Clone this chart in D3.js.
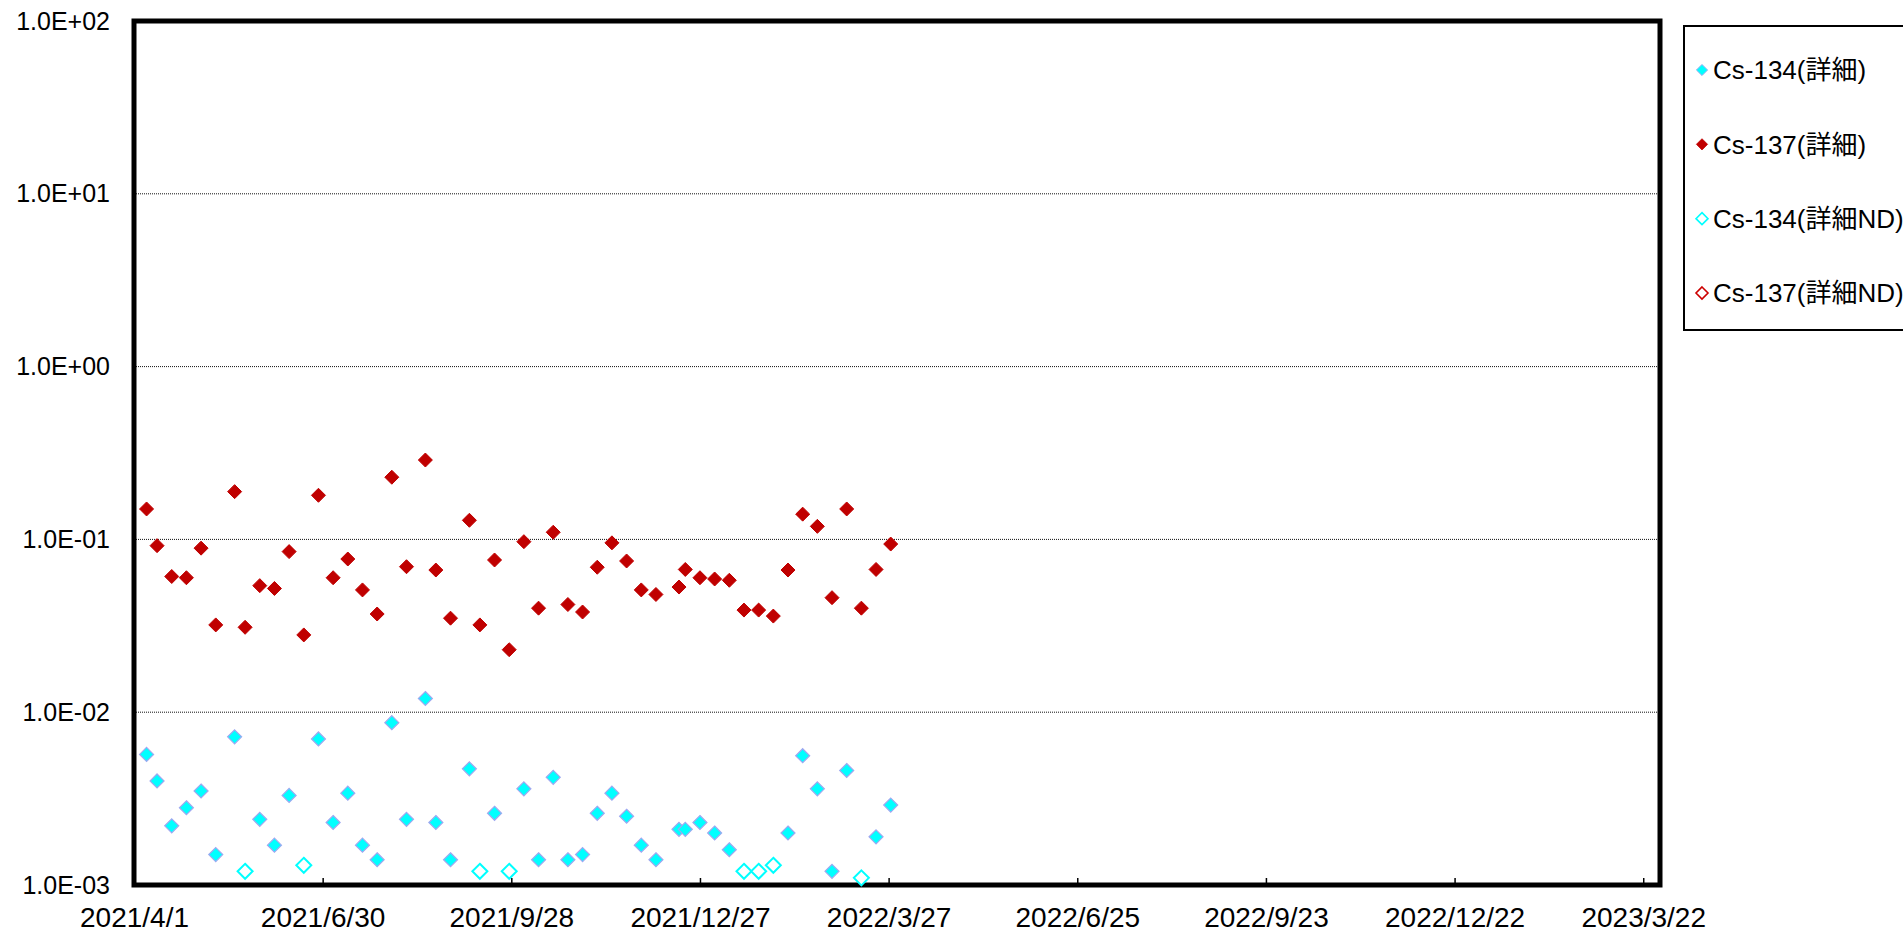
<!DOCTYPE html>
<html>
<head>
<meta charset="utf-8">
<script src="https://cdn.jsdelivr.net/npm/d3@7"></script>
<style>
  body { margin: 0; background: #fff; overflow: hidden; }
  svg { display: block; }
</style>
</head>
<body>
<div id="chart"></div>
<script>
// sample dates (weekly detail samples)
var sampleDates = ["2021/4/7","2021/4/12","2021/4/19","2021/4/26","2021/5/3","2021/5/10","2021/5/19","2021/5/24",
  "2021/5/31","2021/6/7","2021/6/14","2021/6/21","2021/6/28","2021/7/5","2021/7/12","2021/7/19","2021/7/26",
  "2021/8/2","2021/8/9","2021/8/18","2021/8/23","2021/8/30","2021/9/8","2021/9/13","2021/9/20","2021/9/27",
  "2021/10/4","2021/10/11","2021/10/18","2021/10/25","2021/11/1","2021/11/8","2021/11/15","2021/11/22",
  "2021/11/29","2021/12/6","2021/12/17","2021/12/20","2021/12/27","2022/1/3","2022/1/10","2022/1/17",
  "2022/1/24","2022/1/31","2022/2/7","2022/2/14","2022/2/21","2022/2/28","2022/3/7","2022/3/14","2022/3/21","2022/3/28"];

// Cs-134 detected values (null = ND)
var cs134Detail = [0.0057,0.0040,0.0022,0.0028,0.0035,0.0015,0.0072,null,
  0.0024,0.0017,0.0033,null,0.0070,0.0023,0.0034,0.0017,0.0014,
  0.0087,0.0024,0.0120,0.0023,0.0014,0.0047,null,0.0026,null,
  0.0036,0.0014,0.0042,0.0014,0.0015,0.0026,0.0034,0.0025,
  0.0017,0.0014,0.0021,0.0021,0.0023,0.0020,0.0016,null,
  null,null,0.0020,0.0056,0.0036,0.0012,0.0046,null,0.0019,0.0029];

// Cs-134 ND (detection limit plotted)
var cs134ND = [null,null,null,null,null,null,null,0.0012,
  null,null,null,0.0013,null,null,null,null,null,
  null,null,null,null,null,null,0.0012,null,0.0012,
  null,null,null,null,null,null,null,null,
  null,null,null,null,null,null,null,0.0012,
  0.0012,0.0013,null,null,null,null,null,0.0011,null,null];

// Cs-137 detected values
var cs137Detail = [0.150,0.092,0.061,0.060,0.089,0.032,0.189,0.031,
  0.054,0.052,0.085,0.028,0.180,0.060,0.077,0.051,0.037,
  0.229,0.0695,0.288,0.0665,0.035,0.129,0.032,0.076,0.023,
  0.097,0.040,0.110,0.042,0.038,0.069,0.0955,0.075,
  0.051,0.048,0.053,0.067,0.060,0.059,0.058,0.039,
  0.039,0.036,0.0665,0.140,0.119,0.046,0.150,0.040,0.067,0.094];

// Cs-137 ND: none in this period
var cs137ND = sampleDates.map(function(){ return null; });

var xTickLabels = ["2021/4/1","2021/6/30","2021/9/28","2021/12/27","2022/3/27","2022/6/25","2022/9/23","2022/12/22","2023/3/22"];
var xDomain = ["2021/4/1","2023/3/30"];
var yTicks = [1e-3,1e-2,1e-1,1e0,1e1,1e2];
var yTickLabels = ["1.0E-03","1.0E-02","1.0E-01","1.0E+00","1.0E+01","1.0E+02"];
var legendNames = ["Cs-134(詳細)","Cs-137(詳細)","Cs-134(詳細ND)","Cs-137(詳細ND)"];

var parse = d3.timeParse("%Y/%m/%d");
var W = 1903, H = 933;
var plotLeft = 134, plotRight = 1660, plotTop = 21, plotBottom = 885;

var svg = d3.select("#chart").append("svg")
  .attr("width", W).attr("height", H);

var x = d3.scaleTime()
  .domain(xDomain.map(parse))
  .range([plotLeft, plotRight]);
var y = d3.scaleLog()
  .domain([1e-3, 1e2])
  .range([plotBottom, plotTop]);

// gridlines (dotted)
svg.append("g").selectAll("line")
  .data(yTicks.slice(1, -1))
  .enter().append("line")
    .attr("x1", plotLeft).attr("x2", plotRight)
    .attr("y1", function(d){ return y(d); })
    .attr("y2", function(d){ return y(d); })
    .attr("stroke", "#111")
    .attr("stroke-width", 1)
    .attr("stroke-dasharray", "1,1");

// y axis labels
var yAxis = d3.axisLeft(y)
  .tickValues(yTicks)
  .tickFormat(function(d, i){ return yTickLabels[i]; })
  .tickSize(0).tickPadding(24);
var gy = svg.append("g").attr("transform", "translate(" + plotLeft + ",0)").call(yAxis);
gy.select(".domain").remove();
gy.selectAll("text")
  .attr("font-family", "'Liberation Sans', Arial, sans-serif")
  .attr("font-size", 25)
  .attr("fill", "#000");

// x axis: small inner ticks + labels
var xAxis = d3.axisBottom(x)
  .tickValues(xTickLabels.map(parse))
  .tickFormat(function(d, i){ return xTickLabels[i]; })
  .tickSizeInner(-7).tickSizeOuter(0).tickPadding(26);
var gx = svg.append("g").attr("transform", "translate(0," + plotBottom + ")").call(xAxis);
gx.select(".domain").remove();
gx.selectAll("line").attr("stroke", "#000").attr("stroke-width", 1.5);
gx.selectAll("text")
  .attr("font-family", "'Liberation Sans', Arial, sans-serif")
  .attr("font-size", 28)
  .attr("fill", "#000")
  .attr("dy", "0.57em");

// plot border
svg.append("rect")
  .attr("x", plotLeft).attr("y", plotTop)
  .attr("width", plotRight - plotLeft).attr("height", plotBottom - plotTop)
  .attr("fill", "none")
  .attr("stroke", "#000")
  .attr("stroke-width", 5);

function diamond(r) {
  return "M0," + (-r) + "L" + r + ",0L0," + r + "L" + (-r) + ",0Z";
}

var series = [
  { values: cs134Detail, fill: "#00FFFF", stroke: "#9FA8F0", sw: 1.2, r: 7 },
  { values: cs137Detail, fill: "#C00000", stroke: "#C00000", sw: 1, r: 7 },
  { values: cs134ND, fill: "#fff", stroke: "#00FFFF", sw: 2, r: 7.5 },
  { values: cs137ND, fill: "#fff", stroke: "#CC0000", sw: 2, r: 7.5 }
];

series.forEach(function(s){
  var pts = sampleDates.map(function(d, i){ return { date: parse(d), v: s.values[i] }; })
    .filter(function(p){ return p.v != null; });
  svg.append("g").selectAll("path")
    .data(pts)
    .enter().append("path")
      .attr("d", diamond(s.r))
      .attr("transform", function(p){ return "translate(" + x(p.date) + "," + y(p.v) + ")"; })
      .attr("fill", s.fill)
      .attr("stroke", s.stroke)
      .attr("stroke-width", s.sw);
});

// legend
var lg = svg.append("g");
lg.append("rect")
  .attr("x", 1684).attr("y", 26)
  .attr("width", 240).attr("height", 304)
  .attr("fill", "#fff")
  .attr("stroke", "#000")
  .attr("stroke-width", 2);

var legendY = d3.scalePoint().domain(d3.range(legendNames.length)).range([70, 293]);
var items = lg.selectAll("g.item")
  .data(legendNames)
  .enter().append("g")
    .attr("class", "item")
    .attr("transform", function(d, i){ return "translate(1702," + legendY(i) + ")"; });
items.append("path")
  .attr("d", function(d, i){ return diamond(series[i].r * 0.8); })
  .attr("fill", function(d, i){ return series[i].fill; })
  .attr("stroke", function(d, i){ return series[i].stroke; })
  .attr("stroke-width", function(d, i){ return series[i].sw * 0.8; });
items.append("text")
  .attr("x", 11)
  .attr("dy", "0.36em")
  .attr("font-family", "'Liberation Sans', 'Noto Sans CJK JP', sans-serif")
  .attr("font-size", 26)
  .attr("fill", "#000")
  .text(function(d){ return d; });
</script>
</body>
</html>
